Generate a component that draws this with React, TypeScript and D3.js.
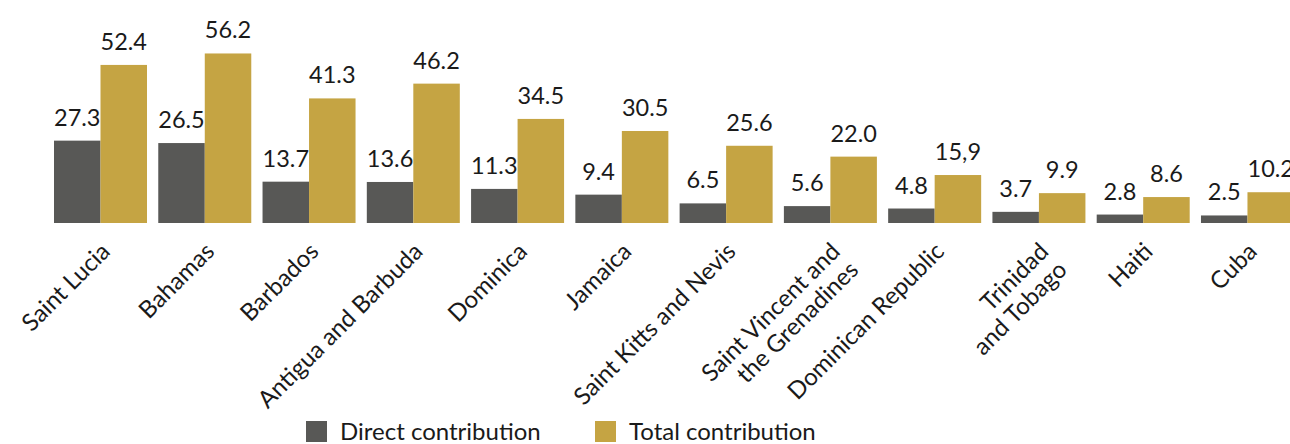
import React from "react";
import * as d3 from "d3";

const categories = [
  "Saint Lucia",
  "Bahamas",
  "Barbados",
  "Antigua and Barbuda",
  "Dominica",
  "Jamaica",
  "Saint Kitts and Nevis",
  "Saint Vincent and\nthe Grenadines",
  "Dominican Republic",
  "Trinidad\nand Tobago",
  "Haiti",
  "Cuba",
];
const directValues = [27.3, 26.5, 13.7, 13.6, 11.3, 9.4, 6.5, 5.6, 4.8, 3.7, 2.8, 2.5];
const totalValues = [52.4, 56.2, 41.3, 46.2, 34.5, 30.5, 25.6, 22.0, 15.9, 9.9, 8.6, 10.2];
const directLabels = ["27.3", "26.5", "13.7", "13.6", "11.3", "9.4", "6.5", "5.6", "4.8", "3.7", "2.8", "2.5"];
const totalLabels = ["52.4", "56.2", "41.3", "46.2", "34.5", "30.5", "25.6", "22.0", "15,9", "9.9", "8.6", "10.2"];
const seriesNames = ["Direct contribution", "Total contribution"];
const seriesColors = ["#585856", "#C5A443"];

const W = 1290;
const H = 444;
const FONT = "Lato, 'Noto Sans', sans-serif";

export default function App() {
  const baseY = 223;
  const step = 104.27;
  const bw = 93;
  const left = 54;
  const x0 = d3
    .scaleBand<string>()
    .domain(categories)
    .range([left, left + (categories.length - 1) * step + bw])
    .paddingInner(1 - bw / step)
    .paddingOuter(0);
  const x1 = d3.scaleBand<string>().domain(seriesNames).range([0, x0.bandwidth()]).padding(0);
  const y = d3.scaleLinear().domain([0, 60]).range([baseY, baseY - 181]);

  const series = [
    { name: seriesNames[0], values: directValues, labels: directLabels, color: seriesColors[0] },
    { name: seriesNames[1], values: totalValues, labels: totalLabels, color: seriesColors[1] },
  ];

  const legendItems = [
    { name: seriesNames[0], color: seriesColors[0], x: 306 },
    { name: seriesNames[1], color: seriesColors[1], x: 595 },
  ];

  return (
    <svg
      width={W}
      height={H}
      style={{ position: "absolute", left: 0, top: 0, background: "#fff" }}
      fontFamily={FONT}
    >
      <rect x={0} y={0} width={W} height={H} fill="#fff" />
      {categories.map((c, i) => (
        <g key={c} transform={`translate(${x0(c)},0)`}>
          {series.map((s) => {
            const bx = x1(s.name)!;
            const top = y(s.values[i]);
            return (
              <g key={s.name}>
                <rect x={bx} y={top} width={x1.bandwidth()} height={baseY - top} fill={s.color} />
                <text
                  x={bx + x1.bandwidth() / 2}
                  y={top - 15}
                  textAnchor="middle"
                  fontSize={23.5}
                  fill="#1a1a1a"
                >
                  {s.labels[i]}
                </text>
              </g>
            );
          })}
        </g>
      ))}
      {categories.map((c) => {
        const cx = x0(c)! + x0.bandwidth() / 2;
        const lines = c.split("\n");
        return (
          <text
            key={"l" + c}
            transform={`translate(${cx + 11},${253}) rotate(-45)`}
            textAnchor="end"
            fontSize={24}
            fill="#1a1a1a"
          >
            {lines.map((ln, k) => (
              <tspan key={k} x={0} dy={k === 0 ? 0 : 26}>
                {ln}
              </tspan>
            ))}
          </text>
        );
      })}
      {legendItems.map((it) => (
        <g key={it.name}>
          <rect x={it.x} y={421} width={21} height={21} fill={it.color} />
          <text x={it.x + 34} y={440} fontSize={24} fill="#1a1a1a">
            {it.name}
          </text>
        </g>
      ))}
    </svg>
  );
}
